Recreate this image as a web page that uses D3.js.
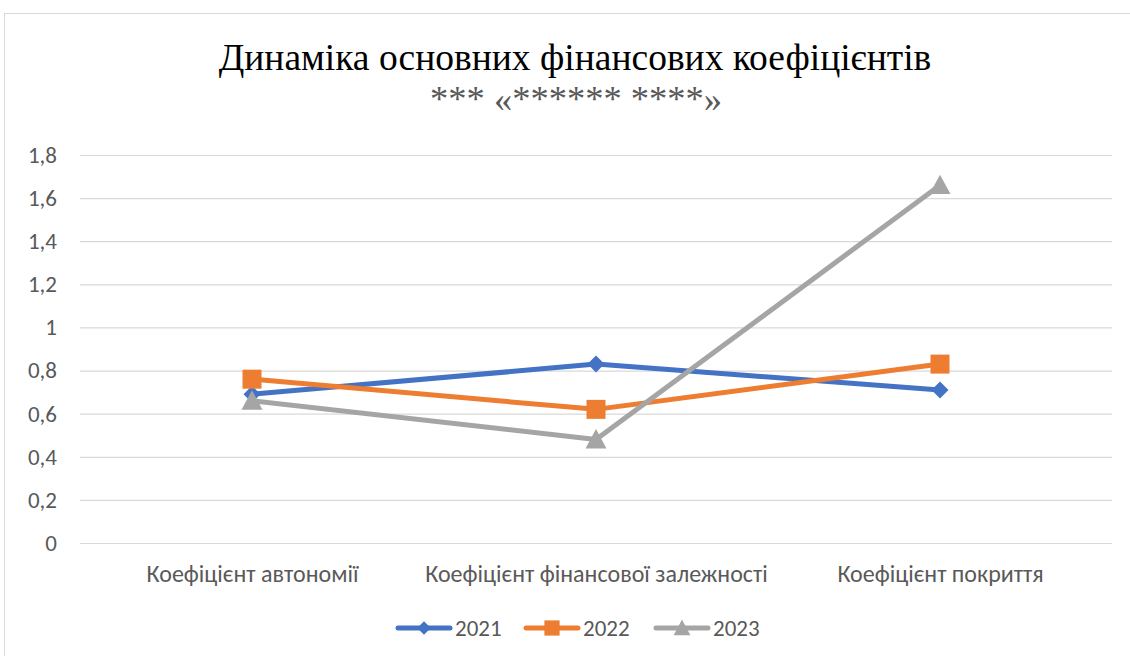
<!DOCTYPE html>
<html>
<head>
<meta charset="utf-8">
<script src="https://cdn.jsdelivr.net/npm/d3@7"></script>
<style>
  html, body { margin: 0; padding: 0; background: #fff; }
  svg { display: block; }
</style>
</head>
<body>
<div id="chart"></div>
<script>
// ---- data -------------------------------------------------------------------
const categories = ['Коефіцієнт автономії', 'Коефіцієнт фінансової залежності', 'Коефіцієнт покриття'];
const years      = ['2021', '2022', '2023'];
const values2021 = [0.69, 0.83, 0.71];
const values2022 = [0.76, 0.62, 0.83];
const values2023 = [0.66, 0.48, 1.66];
const yTicks     = [0, 0.2, 0.4, 0.6, 0.8, 1, 1.2, 1.4, 1.6, 1.8];
const colors     = ['#4472C4', '#ED7D31', '#A5A5A5'];
const markers    = ['diamond', 'square', 'triangle'];

const series = years.map((y, i) => ({
  name: y,
  values: [values2021, values2022, values2023][i],
  color: colors[i],
  marker: markers[i]
}));

// ---- layout -----------------------------------------------------------------
const W = 1130, H = 656;
const plot = { left: 80, right: 1112, top: 155, bottom: 543 };
const axisFont  = 'Carlito, Calibri, "Open Sans", sans-serif';
const titleFont = '"Liberation Serif", "Times New Roman", serif';

const svg = d3.select('#chart').append('svg').attr('width', W).attr('height', H);

// chart frame
svg.append('rect')
  .attr('x', 4.5).attr('y', 13.5).attr('width', W + 10).attr('height', H + 10)
  .attr('fill', '#fff').attr('stroke', '#d9d9d9').attr('stroke-width', 1);

const x = d3.scalePoint().domain(categories).range([plot.left, plot.right]).padding(0.5);
const y = d3.scaleLinear().domain([0, 1.8]).range([plot.bottom, plot.top]);
const fmt = v => String(+v.toFixed(1)).replace('.', ',');

// ---- title --------------------------------------------------------------------
svg.append('text')
  .attr('x', 575).attr('y', 70).attr('text-anchor', 'middle')
  .style('font-family', titleFont)
  .style('font-size', '37.5px').attr('fill', '#000')
  .text('Динаміка основних фінансових коефіцієнтів');
svg.append('text')
  .attr('x', 576).attr('y', 111).attr('text-anchor', 'middle')
  .style('font-family', titleFont)
  .style('font-size', '36.5px').attr('fill', '#595959')
  .text('*** «****** ****»');

// ---- grid + y axis ------------------------------------------------------------
const yAxis = d3.axisLeft(y).tickValues(yTicks).tickSize(-(plot.right - plot.left))
  .tickPadding(23).tickFormat(fmt);
const gy = svg.append('g').attr('transform', `translate(${plot.left},0)`).call(yAxis);
gy.select('.domain').remove();
gy.selectAll('.tick line').attr('stroke', '#d9d9d9').attr('stroke-width', 1.2);
gy.selectAll('.tick text')
  .style('font-family', axisFont).style('font-size', '23px').attr('fill', '#595959');

// ---- x axis labels --------------------------------------------------------------
const xAxis = d3.axisBottom(x).tickSize(0).tickPadding(22);
const gx = svg.append('g').attr('transform', `translate(0,${plot.bottom})`).call(xAxis);
gx.select('.domain').remove();
gx.selectAll('.tick text')
  .style('font-family', axisFont).style('font-size', '24px').attr('fill', '#595959');

// ---- markers ----------------------------------------------------------------------
function drawMarker(g, type, color, scale) {
  const s = scale || 1;
  if (type === 'diamond') {
    const h = 8.5 * s;
    g.append('path').attr('d', `M0,${-h}L${h},0L0,${h}L${-h},0Z`).attr('fill', color);
  } else if (type === 'square') {
    const h = 9.5 * s;
    g.append('rect').attr('x', -h).attr('y', -h).attr('width', 2 * h).attr('height', 2 * h).attr('fill', color);
  } else {
    const a = 10.5 * s;
    g.append('path').attr('d', `M0,${-a}L${a},${a * 0.85}L${-a},${a * 0.85}Z`).attr('fill', color);
  }
}

const line = d3.line().x((d, i) => x(categories[i])).y(d => y(d));

series.forEach(s => {
  svg.append('path').datum(s.values)
    .attr('d', line).attr('fill', 'none')
    .attr('stroke', s.color).attr('stroke-width', 5)
    .attr('stroke-linejoin', 'round').attr('stroke-linecap', 'round');
});
series.forEach(s => {
  s.values.forEach((v, i) => {
    const g = svg.append('g').attr('transform', `translate(${x(categories[i])},${y(v)})`);
    drawMarker(g, s.marker, s.color);
  });
});

// ---- legend -----------------------------------------------------------------------
const legendX = [398, 526, 656];
series.forEach((s, i) => {
  const lg = svg.append('g').attr('transform', `translate(${legendX[i]},628)`);
  lg.append('line').attr('x1', 0).attr('x2', 52).attr('y1', 0).attr('y2', 0)
    .attr('stroke', s.color).attr('stroke-width', 5).attr('stroke-linecap', 'round');
  const m = lg.append('g').attr('transform', 'translate(26,0)');
  drawMarker(m, s.marker, s.color, 0.8);
  lg.append('text').attr('x', 57).attr('y', 8)
    .style('font-family', axisFont).style('font-size', '23px').attr('fill', '#595959')
    .text(s.name);
});
</script>
</body>
</html>
